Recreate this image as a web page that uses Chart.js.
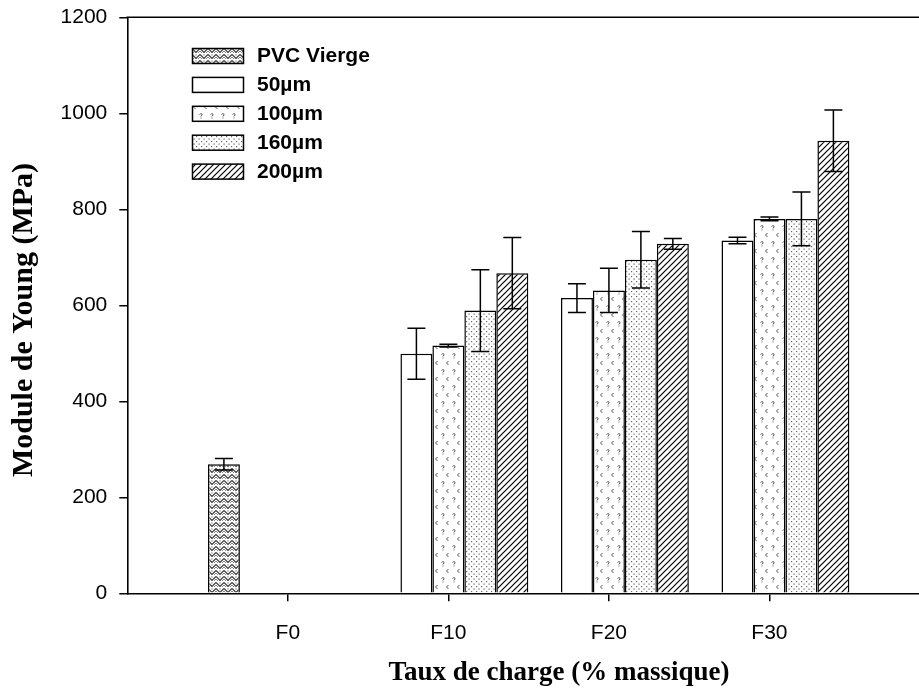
<!DOCTYPE html>
<html><head><meta charset="utf-8">
<script src="https://cdn.jsdelivr.net/npm/chart.js@4"></script>
<style>
html,body{margin:0;padding:0;background:#fff;overflow:hidden}
#wrap{width:919px;height:691px;overflow:hidden;position:relative;background:#fff}
canvas{display:block}
</style></head><body>
<div id="wrap"><canvas id="c" width="935" height="691"></canvas></div>
<script>
// ---- data ----
const categories = ['F0', 'F10', 'F20', 'F30'];
const seriesNames = ['PVC Vierge', '50µm', '100µm', '160µm', '200µm'];
const pvcVierge    = [269, null, null, null];
const pvcViergeErr = [12,  null, null, null];
const um50    = [null, 499, 615, 735];
const um50Err = [null, 53,  30,  7];
const um100    = [null, 516, 631, 780];
const um100Err = [null, 3,   46,  4];
const um160    = [null, 589, 695, 780];
const um160Err = [null, 85,  59,  56];
const um200    = [null, 667, 728, 943];
const um200Err = [null, 74,  11,  64];
const yTicks = [0, 200, 400, 600, 800, 1000, 1200];
const xTitle = 'Taux de charge (% massique)';
const yTitle = 'Module de Young (MPa)';

// ---- patterns ----
function makePattern(w, h, draw) {
  const c = document.createElement('canvas');
  c.width = w; c.height = h;
  const g = c.getContext('2d');
  g.fillStyle = '#fff'; g.fillRect(0, 0, w, h);
  draw(g);
  return g.createPattern(c, 'repeat') || '#fff';
}
const patHerring = makePattern(8, 6, g => {
  g.strokeStyle = '#333'; g.lineWidth = 1.1;
  g.beginPath(); g.moveTo(0, 0.5); g.lineTo(4, 4.5); g.lineTo(8, 0.5); g.stroke();
  g.strokeStyle = '#777'; g.lineWidth = 0.9;
  g.beginPath(); g.moveTo(0, 3); g.lineTo(2, 5); g.moveTo(8, 3); g.lineTo(6, 5); g.stroke();
  g.fillStyle = '#444'; g.fillRect(3.5, 0.5, 1, 1);
});
const patSquiggle = makePattern(11, 16, g => {
  g.strokeStyle = '#555'; g.lineWidth = 1;
  g.beginPath(); g.moveTo(1.5, 2.5); g.quadraticCurveTo(4, 0.5, 4, 3); g.lineTo(3, 4.5); g.stroke();
  g.fillStyle = '#555'; g.fillRect(2.5, 5.5, 1, 1);
  g.beginPath(); g.moveTo(8.5, 9); g.lineTo(6.5, 11); g.lineTo(8.5, 13); g.stroke();
});
const patDots = makePattern(5, 5, g => {
  g.fillStyle = '#666';
  g.fillRect(1, 1, 1.2, 1.2);
  g.fillRect(3.5, 3.5, 1.2, 1.2);
});
const patHatch = makePattern(6, 6, g => {
  g.strokeStyle = '#000'; g.lineWidth = 1.2;
  g.beginPath();
  g.moveTo(-1, 7); g.lineTo(7, -1);
  g.moveTo(-1, 1); g.lineTo(1, -1);
  g.moveTo(5, 7); g.lineTo(7, 5);
  g.stroke();
});

function toPoints(values) {
  const pts = [];
  values.forEach((v, i) => { if (v !== null) pts.push({ x: i, y: v }); });
  return pts;
}
const seriesValues = [pvcVierge, um50, um100, um160, um200];
const seriesErrors = [pvcViergeErr, um50Err, um100Err, um160Err, um200Err];
const seriesFills = [patHerring, '#ffffff', patSquiggle, patDots, patHatch];

const datasets = seriesNames.map((name, k) => ({
  label: name,
  data: toPoints(seriesValues[k]),
  errors: seriesErrors[k],
  backgroundColor: seriesFills[k],
  borderColor: '#000',
  borderWidth: 1.5,
  barPercentage: 1,
  categoryPercentage: 0.9956
}));

const SANS = "'Liberation Sans', Arial, sans-serif";
const SERIF = "'Liberation Serif', 'Times New Roman', serif";

const errorBars = {
  id: 'errorBars',
  afterDatasetsDraw(chart) {
    const ctx = chart.ctx, ys = chart.scales.y;
    ctx.save();
    ctx.strokeStyle = '#000'; ctx.lineWidth = 1.5;
    chart.data.datasets.forEach((ds, i) => {
      const meta = chart.getDatasetMeta(i);
      meta.data.forEach((el, j) => {
        const p = ds.data[j];
        const e = ds.errors[p.x];
        if (e == null) return;
        const yt = ys.getPixelForValue(p.y + e), yb = ys.getPixelForValue(p.y - e);
        const x = el.x, cap = 9;
        ctx.beginPath();
        ctx.moveTo(x, yt); ctx.lineTo(x, yb);
        ctx.moveTo(x - cap, yt); ctx.lineTo(x + cap, yt);
        ctx.moveTo(x - cap, yb); ctx.lineTo(x + cap, yb);
        ctx.stroke();
      });
    });
    ctx.restore();
  }
};

const frameAndTitles = {
  id: 'frameAndTitles',
  afterDraw(chart) {
    const { ctx, chartArea: a } = chart;
    ctx.save();
    ctx.strokeStyle = '#000'; ctx.lineWidth = 1.6;
    ctx.beginPath(); ctx.moveTo(a.left - 0.8, a.top); ctx.lineTo(a.right, a.top); ctx.stroke();
    ctx.fillStyle = '#000';
    ctx.textAlign = 'center'; ctx.textBaseline = 'middle';
    ctx.font = 'bold 27px ' + SERIF;
    ctx.fillText(xTitle, 559, 673);
    ctx.translate(24, 320);
    ctx.rotate(-Math.PI / 2);
    ctx.font = 'bold 30px ' + SERIF;
    ctx.fillText(yTitle, 0, 0);
    ctx.restore();
  }
};

const insideLegend = {
  id: 'insideLegend',
  afterDraw(chart) {
    const ctx = chart.ctx;
    const x0 = 192.5, y0 = 48.5, bw = 51, bh = 15, step = 28.9, tx = 257;
    ctx.save();
    ctx.font = 'bold 21px ' + SANS;
    ctx.textBaseline = 'middle';
    ctx.textAlign = 'left';
    chart.data.datasets.forEach((ds, i) => {
      const y = y0 + i * step;
      ctx.fillStyle = ds.backgroundColor;
      ctx.fillRect(x0, y, bw, bh);
      ctx.strokeStyle = '#000'; ctx.lineWidth = 1.5;
      ctx.strokeRect(x0, y, bw, bh);
      ctx.fillStyle = '#000';
      ctx.fillText(ds.label, tx, y + bh / 2 + 0.5);
    });
    ctx.restore();
  }
};

new Chart(document.getElementById('c'), {
  type: 'bar',
  data: { datasets },
  options: {
    responsive: false,
    animation: false,
    devicePixelRatio: 1,
    layout: { padding: { left: 0, right: 5, top: 17.3, bottom: 0 } },
    plugins: { legend: { display: false }, tooltip: { enabled: false } },
    scales: {
      x: {
        type: 'linear',
        min: -1, max: 4,
        offset: false,
        afterBuildTicks(s) { s.ticks = categories.map((c, i) => ({ value: i })); },
        afterFit(s) { s.height = 97.7; s.paddingLeft = 0; s.paddingRight = 0; },
        ticks: {
          callback: (v) => categories[v] ?? '',
          color: '#000',
          font: { family: SANS, size: 21 },
          padding: 19,
          maxRotation: 0,
          autoSkip: false
        },
        grid: { offset: false, drawOnChartArea: false, drawTicks: true, tickLength: 8, color: '#000', lineWidth: 1.5 },
        border: { display: true, color: '#000', width: 1.6 },
        title: { display: false }
      },
      y: {
        min: 0, max: 1200,
        afterBuildTicks(s) { s.ticks = yTicks.map(v => ({ value: v })); },
        afterFit(s) { s.width = 127.3; s.paddingTop = 0; s.paddingBottom = 0; },
        ticks: {
          callback: (v) => String(v),
          color: '#000',
          font: { family: SANS, size: 21 },
          padding: 12
        },
        grid: { drawOnChartArea: false, drawTicks: true, tickLength: 8, color: '#000', lineWidth: 1.5 },
        border: { display: true, color: '#000', width: 1.6 },
        title: { display: false }
      }
    }
  },
  plugins: [errorBars, frameAndTitles, insideLegend]
});
</script>
</body></html>
